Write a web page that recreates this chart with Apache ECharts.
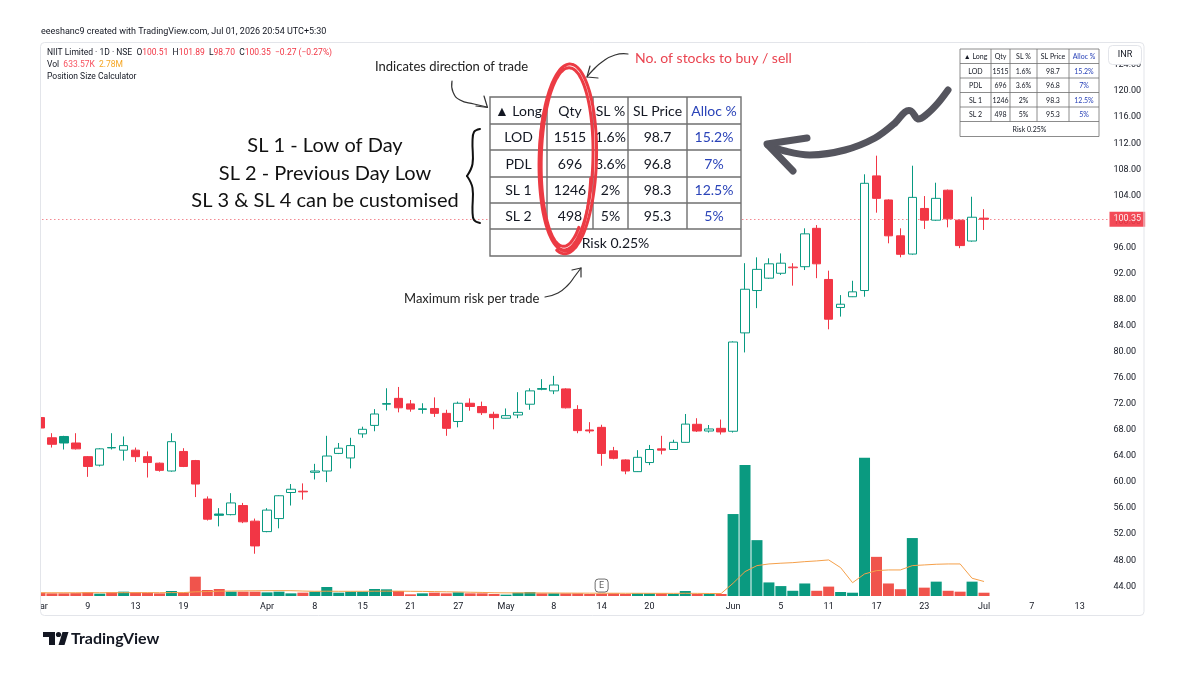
<!DOCTYPE html>
<html>
<head>
<meta charset="utf-8">
<title>NIIT Limited · 1D · NSE</title>
<script src="https://cdn.jsdelivr.net/npm/echarts@6/dist/echarts.min.js"></script>
<style>
  html, body { margin: 0; padding: 0; background: #fff; }
  #chart { width: 1200px; height: 675px; }
</style>
</head>
<body>
<div id="chart"></div>
<script>
// daily bars, first trading day of March .. Jul 01 (80 sessions)
const open = [69.9, 66.8, 67.0, 66.0, 63.9, 62.6, 65.3, 64.9, 64.9, 63.9,
  62.9, 61.7, 64.7, 63.3, 57.4, 55.1, 55.0, 56.4, 54.0, 52.4,
  54.4, 58.4, 58.6, 61.5, 61.7, 64.4, 63.7, 67.4, 68.7, 71.95,
  72.85, 72.0, 71.15, 71.3, 70.55, 69.3, 72.1, 71.6, 70.4, 69.8,
  70.3, 71.95, 74.35, 74.0, 74.3, 71.15, 68.0, 68.4, 64.8, 63.4,
  61.6, 63.0, 65.1, 65.0, 66.1, 68.87, 67.84, 68.25, 67.8, 82.9,
  89.4, 91.3, 92.05, 92.9, 93.06, 98.95, 91.1, 86.8, 88.45, 89.4,
  107.0, 103.3, 97.8, 95.0, 102.0, 100.2, 104.8, 100.2, 97.0, 100.51];
const high = [70.0, 67.5, 67.1, 67.5, 64.0, 65.2, 67.5, 67.0, 65.3, 64.7,
  63.0, 67.5, 65.2, 63.4, 57.8, 56.0, 58.3, 56.8, 54.4, 56.0,
  58.0, 59.7, 59.8, 62.8, 67.1, 66.0, 66.8, 68.5, 71.2, 74.4,
  74.6, 72.6, 72.1, 73.0, 71.1, 72.35, 72.85, 72.35, 70.8, 71.3,
  73.8, 74.4, 75.8, 76.3, 74.4, 71.8, 69.2, 68.8, 65.4, 63.5,
  64.9, 65.7, 67.1, 66.5, 70.45, 69.8, 68.76, 69.6, 81.6, 93.6,
  94.5, 94.35, 95.1, 93.6, 98.95, 99.45, 92.45, 88.7, 90.9, 107.24,
  110.1, 103.4, 98.95, 108.56, 103.9, 105.95, 104.9, 100.3, 103.8, 101.89];
const low = [68.1, 65.3, 65.0, 65.0, 60.8, 62.4, 65.0, 63.3, 63.1, 60.7,
  61.6, 61.6, 62.3, 57.7, 54.1, 53.2, 54.9, 53.7, 49.0, 52.3,
  52.9, 56.4, 57.3, 60.4, 60.0, 64.3, 62.1, 66.8, 67.8, 71.0,
  70.7, 70.8, 70.5, 70.0, 67.1, 68.4, 70.95, 70.3, 68.1, 69.75,
  69.8, 71.1, 74.1, 73.5, 71.3, 67.5, 67.5, 62.5, 63.5, 61.2,
  61.55, 62.6, 64.25, 64.95, 66.05, 67.7, 67.6, 67.3, 67.6, 79.9,
  86.7, 91.2, 91.8, 90.15, 92.55, 91.3, 83.45, 85.4, 88.4, 88.45,
  101.35, 96.65, 94.5, 94.9, 98.85, 100.1, 99.1, 95.9, 96.9, 98.70];
const close = [68.3, 65.8, 66.0, 65.1, 62.4, 65.1, 65.25, 65.6, 63.9, 63.0,
  61.8, 66.2, 62.4, 59.7, 54.3, 54.9, 56.8, 53.9, 50.2, 55.7,
  57.9, 58.9, 58.5, 61.7, 64.0, 65.2, 65.6, 68.1, 70.45, 72.05,
  71.4, 71.2, 71.25, 70.55, 68.25, 72.1, 71.6, 70.65, 69.9, 70.2,
  70.7, 74.0, 74.25, 74.9, 71.4, 67.9, 67.85, 64.4, 63.65, 61.7,
  63.8, 65.0, 64.9, 66.1, 68.9, 67.84, 68.15, 67.7, 81.5, 89.6,
  92.65, 93.5, 93.6, 93.0, 98.1, 93.5, 85.0, 87.3, 89.2, 105.86,
  103.55, 97.8, 94.96, 103.7, 100.2, 103.55, 100.4, 96.3, 100.65, 100.35];
// volume in millions of shares, and its moving average as drawn
const volume = [0.64, 0.51, 0.51, 0.55, 0.7, 0.45, 0.7, 0.83, 0.7, 0.64,
  0.51, 0.96, 0.64, 3.7, 1.15, 1.34, 0.83, 0.83, 0.83, 0.7,
  0.83, 0.51, 0.64, 0.83, 1.73, 0.64, 0.83, 0.83, 1.34, 1.28,
  0.96, 0.32, 0.51, 0.64, 0.51, 0.7, 0.51, 0.51, 0.38, 0.26,
  0.64, 0.77, 0.51, 0.51, 0.51, 0.51, 0.38, 0.45, 0.51, 0.38,
  0.51, 0.51, 0.51, 0.38, 0.96, 0.38, 0.38, 0.38, 15.7, 25.1,
  10.7, 2.6, 1.9, 1.0, 2.4, 1.0, 1.8, 0.77, 0.63, 26.5,
  7.5, 2.4, 1.3, 11.1, 1.6, 2.75, 1.0, 0.83, 2.75, 0.63];
const volumeMA = [0.62, 0.62, 0.62, 0.62, 0.63, 0.63, 0.63, 0.64, 0.64, 0.64,
  0.64, 0.65, 0.65, 0.8, 0.85, 0.92, 0.95, 0.98, 1.0, 1.02,
  1.03, 1.02, 0.95, 0.9, 0.92, 0.9, 0.9, 0.9, 0.92, 0.93,
  0.93, 0.9, 0.88, 0.85, 0.8, 0.78, 0.72, 0.68, 0.62, 0.6,
  0.6, 0.6, 0.58, 0.57, 0.56, 0.55, 0.54, 0.53, 0.53, 0.52,
  0.52, 0.51, 0.51, 0.5, 0.52, 0.5, 0.48, 0.47, 2.44, 4.67,
  5.82, 6.14, 6.28, 6.39, 6.58, 6.72, 6.91, 5.43, 2.55, 4.22,
  4.86, 4.99, 4.99, 5.82, 5.95, 6.08, 6.14, 6.14, 3.4, 2.78];

const slotCount = 90; // sessions incl. empty space on the right
const tickIdx = [0, 4, 8, 12, 19, 23, 27, 31, 35, 39, 43, 47, 51, 58, 62, 66, 70, 74, 79, 83, 87];
const tickText = ['Mar', '9', '13', '19', 'Apr', '8', '15', '21', '27', 'May', '8', '14', '20',
  'Jun', '5', '11', '17', '23', 'Jul', '7', '13'];
const eventIdx = [47];
const eventText = ['E'];

const priceMin = 40, priceMax = 128, priceStep = 4;
const volMax = 29.5;

// position size calculator table
const tableHead = ['▲ Long', 'Qty', 'SL %', 'SL Price', 'Alloc %'];
const tableRows = [
  ['LOD', '1515', '1.6%', '98.7', '15.2%'],
  ['PDL', '696', '3.6%', '96.8', '7%'],
  ['SL 1', '1246', '2%', '98.3', '12.5%'],
  ['SL 2', '498', '5%', '95.3', '5%']
];
const tableFoot = 'Risk 0.25%';

const UP = '#089981', DOWN = '#f23645';
const VOL_UP = '#0a9a80', VOL_DOWN = '#f0544c';
const TEXT = '#131722';
const BLUE = '#2a43b8';
const HAND = 'Lato, "Open Sans", sans-serif';

const chart = echarts.init(document.getElementById('chart'));

const days = Array.from({length: slotCount}, (_, i) => String(i));

// hollow candles: body hollow when close >= open, colour vs previous close
const candles = close.map((c, i) => {
    const prev = i === 0 ? open[0] : close[i - 1];
    const col = c >= prev ? UP : DOWN;
    const fill = c >= open[i] ? '#ffffff' : col;
    return {
        value: [open[i], c, low[i], high[i]],
        itemStyle: {color: fill, color0: fill, borderColor: col, borderColor0: col, borderColorDoji: col}
    };
});

const volBars = volume.map((v, i) => ({
    value: v,
    itemStyle: {color: close[i] >= open[i] ? VOL_UP : VOL_DOWN}
}));

/**
 * text helper for the graphic layer
 */
const txt = (x, y, text, font, fill, align, extra) => ({
    type: 'text', x: x, y: y, z: 120,
    style: Object.assign({
        text: text, font: font, fill: fill || TEXT,
        textAlign: align || 'left', textVerticalAlign: 'middle',
        align: align || 'left', verticalAlign: 'middle'
    }, extra || {})
});

const line = (pts, color, w, smooth, z) => ({
    type: 'polyline', z: z || 120,
    shape: {points: pts, smooth: smooth || 0},
    style: {stroke: color, lineWidth: w, fill: null, lineCap: 'round', lineJoin: 'round'}
});

/**
 * draws the calculator table, xs / ys are the grid lines
 */
const makeTable = (xs, ys, font, lw) => {
    const els = [];
    const x0 = xs[0], x1 = xs[xs.length - 1], y0 = ys[0], y1 = ys[ys.length - 1];
    els.push({type: 'rect', z: 110, shape: {x: x0, y: y0, width: x1 - x0, height: y1 - y0},
        style: {fill: '#fff', stroke: '#6f6f6f', lineWidth: lw}});
    for (let r = 1; r < ys.length - 1; r++) {
        els.push({type: 'line', z: 111, shape: {x1: x0, y1: ys[r], x2: x1, y2: ys[r]},
            style: {stroke: '#6f6f6f', lineWidth: lw}});
    }
    for (let c = 1; c < xs.length - 1; c++) {
        els.push({type: 'line', z: 111, shape: {x1: xs[c], y1: y0, x2: xs[c], y2: ys[ys.length - 2]},
            style: {stroke: '#6f6f6f', lineWidth: lw}});
    }
    const rows = [tableHead].concat(tableRows);
    rows.forEach((row, r) => {
        row.forEach((cell, c) => {
            const cx = (xs[c] + xs[c + 1]) / 2, cy = (ys[r] + ys[r + 1]) / 2 + 0.5;
            els.push(txt(cx, cy, cell, font, c === 4 ? BLUE : TEXT, 'center'));
        });
    });
    els.push(txt((x0 + x1) / 2, (ys[ys.length - 2] + y1) / 2 + 0.5, tableFoot, font, TEXT, 'center'));
    return els;
};

// hand drawn loop around the Qty column
const loopPoints = (cx, cy, rx0, rx1, ry0, ry1, turns, start, tilt) => {
    const pts = [];
    const n = 220;
    for (let k = 0; k <= n; k++) {
        const t = k / n;
        const a = start + t * turns * 2 * Math.PI;
        const rx = rx0 + (rx1 - rx0) * t, ry = ry0 + (ry1 - ry0) * t;
        const px = rx * Math.cos(a), py = ry * Math.sin(a);
        pts.push([cx + 1.5 * t + px * Math.cos(tilt) - py * Math.sin(tilt),
            cy + px * Math.sin(tilt) + py * Math.cos(tilt)]);
    }
    return pts;
};

const graphics = [
    // left edge cut and chart frame
    {type: 'rect', z: 100, shape: {x: 0, y: 40, width: 40, height: 585}, style: {fill: '#fff'}},
    {type: 'rect', z: 101, shape: {x: 40.5, y: 42.5, width: 1103.5, height: 573, r: 4},
        style: {fill: null, stroke: '#e3e5ea', lineWidth: 1}},
    {type: 'rect', z: 102, shape: {x: 1108.5, y: 45.5, width: 33, height: 19, r: 4},
        style: {fill: '#fff', stroke: '#e3e5ea', lineWidth: 1}},
    txt(1125, 55, 'INR', '9px Roboto', TEXT, 'center'),

    // header
    txt(41, 32, 'eeeshanc9 created with TradingView.com, Jul 01, 2026 20:54 UTC+5:30', '9px Roboto', TEXT),
    txt(47, 53, 'NIIT Limited · 1D · NSE  O{r|100.51}  H{r|101.89}  L{r|98.70}  C{r|100.35}  {r|−0.27 (−0.27%)}',
        '8.5px Roboto', TEXT, 'left', {rich: {r: {fill: DOWN, font: '8.5px Roboto'}}}),
    txt(47, 65, 'Vol  {a|633.57K}  {b|2.78M}', '8.5px Roboto', TEXT, 'left',
        {rich: {a: {fill: '#f7525f', font: '8.5px Roboto'}, b: {fill: '#f5a623', font: '8.5px Roboto'}}}),
    txt(47, 77, 'Position Size Calculator', '8.5px Roboto', TEXT),

    // notes on the left
    txt(325, 146, 'SL 1 - Low of Day', '20px ' + HAND, '#111', 'center'),
    txt(325, 174, 'SL 2 - Previous Day Low', '20px ' + HAND, '#111', 'center'),
    txt(325, 201, 'SL 3 & SL 4 can be customised', '20px ' + HAND, '#111', 'center'),
    line([[480, 129], [474, 132], [472.5, 142], [472.5, 164], [467, 176]], '#111', 2, 0.4),
    line([[467, 176], [472.5, 188], [472.5, 211], [474, 220], [480, 223]], '#111', 2, 0.4),

    txt(375, 67, 'Indicates direction of trade', '13px ' + HAND, '#222'),
    line([[452, 81], [453, 92], [460, 100], [474, 104], [487, 107]], '#333', 1.2, 0.5),
    line([[484, 96], [487.5, 107.5], [476, 106]], '#333', 1.2),

    txt(635, 58, 'No. of stocks to buy / sell', '14px ' + HAND, '#ea4450'),
    line([[628, 54], [615, 55], [602, 62], [593, 70], [587, 77]], '#333', 1.2, 0.5),
    line([[590, 66], [587, 77], [598, 78]], '#333', 1.2),

    txt(404, 299, 'Maximum risk per trade', '13px ' + HAND, '#222'),
    line([[545, 297], [558, 293], [568, 285], [575, 276], [581, 268]], '#333', 1.2, 0.5),
    line([[572, 270], [581, 268], [581, 277]], '#333', 1.2),

    // big grey arrow from the small table to the big one
    line([[948, 90], [938, 103], [927, 114], [918, 119], [911, 111], [905, 112], [895, 123],
        [875, 138], [845, 150], [810, 155], [785, 151], [768, 145]], '#55555e', 7, 0.35),
    line([[807, 138], [767, 144], [793, 171]], '#55555e', 7),

    // TradingView mark
    {type: 'polygon', z: 120, shape: {points: [[43, 632], [55, 632], [55, 645], [49, 645], [49, 637], [43, 637]]},
        style: {fill: TEXT}},
    {type: 'circle', z: 120, shape: {cx: 58.5, cy: 634.5, r: 2.6}, style: {fill: TEXT}},
    {type: 'polygon', z: 120, shape: {points: [[58.5, 645], [62.5, 632], [68.5, 632], [64.5, 645]]},
        style: {fill: TEXT}},
    txt(71, 638.5, 'TradingView', 'bold 16px ' + HAND, TEXT)
].concat(
    makeTable([490, 547, 593, 628, 687, 741], [97, 124, 150, 177, 203, 229, 256], '14px ' + HAND, 1.4),
    makeTable([960, 991, 1010, 1037, 1069, 1099], [49, 63.5, 78, 92.5, 107, 121.5, 136.5], '7px ' + HAND, 0.8),
    [
        line(loopPoints(566, 158, 24, 30, 88, 96, 2.15, 0.9, 0.03), '#ec3b44', 3, 0.3),
        line(loopPoints(565, 160, 26, 27, 92, 90, 0.55, 0.2, 0.0), '#ec3b44', 2.5, 0.3)
    ]
);

const option = {
    animation: false,
    backgroundColor: '#ffffff',
    grid: [
        {left: 34, right: 90.5, top: 39.06, height: 573.32},
        {left: 34, right: 90.5, top: 442, height: 154}
    ],
    xAxis: [
        {
            type: 'category', gridIndex: 0, data: days, boundaryGap: true,
            axisLine: {show: false}, axisTick: {show: false}, axisLabel: {show: false}, splitLine: {show: false}
        },
        {
            type: 'category', gridIndex: 1, data: days, boundaryGap: true,
            axisLine: {show: false}, axisTick: {show: false}, splitLine: {show: false},
            axisLabel: {
                color: TEXT, fontSize: 9, fontFamily: 'Roboto', margin: 6, hideOverlap: false,
                interval: (idx) => tickIdx.indexOf(idx) >= 0,
                formatter: (v, idx) => {
                    const k = tickIdx.indexOf(Number(v));
                    return k >= 0 ? tickText[k] : '';
                }
            }
        }
    ],
    yAxis: [
        {
            type: 'value', gridIndex: 0, position: 'right', min: priceMin, max: priceMax, interval: priceStep,
            axisLine: {show: false}, axisTick: {show: false}, splitLine: {show: false},
            axisLabel: {
                color: TEXT, fontSize: 9, fontFamily: 'Roboto', margin: 4,
                formatter: (v) => (v >= 44 && v <= 124) ? v.toFixed(2) : ''
            }
        },
        {
            type: 'value', gridIndex: 1, min: 0, max: volMax, show: false
        }
    ],
    series: [
        {
            name: 'Vol', type: 'bar', xAxisIndex: 1, yAxisIndex: 1,
            barWidth: 11, data: volBars, z: 1
        },
        {
            name: 'Vol MA', type: 'line', xAxisIndex: 1, yAxisIndex: 1,
            data: volumeMA, symbol: 'none', z: 2,
            lineStyle: {color: '#f5a04a', width: 1}
        },
        {
            name: 'Events', type: 'scatter', xAxisIndex: 1, yAxisIndex: 1, z: 3,
            data: eventIdx.map((d) => [d, 2.0]),
            symbol: 'roundRect', symbolSize: 13,
            itemStyle: {color: '#ffffff', borderColor: '#4a4a4a', borderWidth: 1},
            label: {
                show: true, position: 'inside', fontSize: 9, color: '#333', fontFamily: 'Roboto',
                formatter: (p) => eventText[p.dataIndex]
            }
        },
        {
            name: 'NIIT', type: 'candlestick', xAxisIndex: 0, yAxisIndex: 0,
            barWidth: 9, data: candles, z: 5,
            itemStyle: {borderWidth: 1},
            markLine: {
                silent: true, symbol: 'none',
                lineStyle: {color: '#f27c86', type: [1.5, 2.5], width: 1, opacity: 0.9},
                label: {
                    position: 'end', distance: 0, formatter: (p) => p.value.toFixed(2),
                    backgroundColor: DOWN, color: '#fff', fontSize: 9, fontFamily: 'Roboto', padding: [3, 4]
                },
                data: [{yAxis: close[close.length - 1]}]
            }
        }
    ],
    graphic: {elements: graphics}
};

chart.setOption(option);
</script>
</body>
</html>
